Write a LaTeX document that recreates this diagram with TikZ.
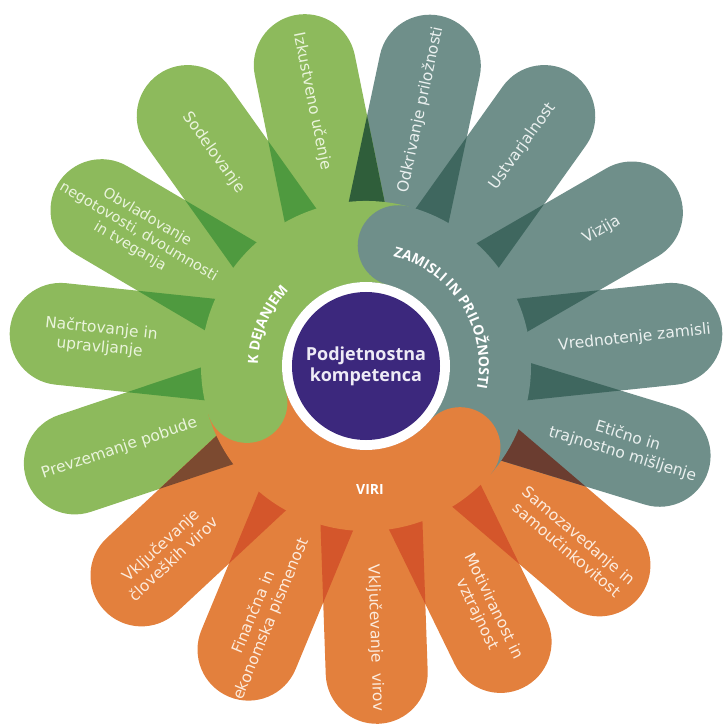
\documentclass[tikz,border=0pt]{standalone}
\usepackage{fontspec}
\setmainfont{DejaVu Sans}
\newfontfamily\osans{Open Sans}
\usetikzlibrary{decorations.text}
\definecolor{grp}{HTML}{8DBA5C}
\definecolor{tep}{HTML}{6F8F8A}
\definecolor{orp}{HTML}{E3803D}
\definecolor{dgr}{HTML}{4F9A3F}
\definecolor{dte}{HTML}{3F675F}
\definecolor{dor}{HTML}{D4562B}
\definecolor{dgt}{HTML}{2F5E3A}
\definecolor{dgo}{HTML}{7C4A30}
\definecolor{dto}{HTML}{6B3D30}
\definecolor{pur}{HTML}{3C287D}
\definecolor{tgr}{HTML}{EAF4DC}
\definecolor{tte}{HTML}{EAF0EF}
\definecolor{tor}{HTML}{FCEBDD}
\definecolor{tpu}{HTML}{EEEBF6}
\def\petalshape{(40,-51) -- (307,-51) arc[start angle=-90,end angle=90,radius=51] -- (40,51) -- cycle}
\newcommand\petal[2]{\fill[#2,rotate=#1] \petalshape;}
\newcommand\overlap[3]{\begin{scope}\clip[rotate=#1] \petalshape; \fill[#3,rotate=#2] \petalshape;\end{scope}}
\tikzset{
  lbl/.style={font=\fontsize{15.5}{18.5}\selectfont, align=center, inner sep=0pt},
  ringlbl/.style={font=\osans\bfseries\fontsize{14}{16}\selectfont, text=white, inner sep=0pt}
}
\begin{document}
\begin{tikzpicture}[x=1pt,y=1pt]
\useasboundingbox (-366,-362) rectangle (361,366);
% petals
\petal{6}{tep}
\petal{30}{tep}
\petal{54.5}{tep}
\petal{78}{tep}
\petal{101.5}{grp}
\petal{125.5}{grp}
\petal{149.5}{grp}
\petal{174}{grp}
\petal{198.5}{grp}
\petal{223}{orp}
\petal{247.5}{orp}
\petal{272}{orp}
\petal{296}{orp}
\petal{319.5}{orp}
\petal{343}{tep}
% overlaps
\overlap{6}{30}{dte}
\overlap{30}{54.5}{dte}
\overlap{54.5}{78}{dte}
\overlap{78}{101.5}{dgt}
\overlap{101.5}{125.5}{dgr}
\overlap{125.5}{149.5}{dgr}
\overlap{149.5}{174}{dgr}
\overlap{174}{198.5}{dgr}
\overlap{198.5}{223}{dgo}
\overlap{223}{247.5}{dor}
\overlap{247.5}{272}{dor}
\overlap{272}{296}{dor}
\overlap{296}{319.5}{dor}
\overlap{319.5}{343}{dto}
\overlap{343}{366}{dte}
% ring bands
\fill[tep] (-41:165) arc[start angle=-41,end angle=75,radius=165] -- (75:84) arc[start angle=75,end angle=-41,radius=84] -- cycle;
\fill[grp] (75:165) arc[start angle=75,end angle=197,radius=165] -- (197:84) arc[start angle=197,end angle=75,radius=84] -- cycle;
\fill[orp] (197:165) arc[start angle=197,end angle=319,radius=165] -- (319:84) arc[start angle=319,end angle=197,radius=84] -- cycle;
\fill[tep] (75:124.5) circle[radius=40.5];
\fill[grp] (197:124.5) circle[radius=40.5];
\fill[orp] (319:124.5) circle[radius=40.5];
\fill[white] (0,0) circle[radius=84];
\fill[pur] (0,0) circle[radius=74];
% centre
\node[font=\osans\bfseries\fontsize{18}{21}\selectfont, text=tpu, align=center] (centre) at (0,0) {Podjetnostna\\kompetenca};
% ring labels
\path[decorate, decoration={text along path, text align=center, text={|\osans\bfseries\fontsize{14}{16}\selectfont\color{white}|K DEJANJEM}}]
  (200:108) arc[start angle=200,end angle=115,radius=108];
\path[decorate, decoration={text along path, text align=center, text={|\osans\bfseries\fontsize{14}{16}\selectfont\color{white}|ZAMISLI IN PRILOŽNOSTI}}]
  (92.5:113) arc[start angle=92.5,end angle=-27.5,radius=113];
\node[ringlbl] (viri) at (4,-124) {VIRI};
% petal labels
\node[lbl, text=tte, rotate=6] (p1) at (6:270) {Vrednotenje zamisli};
\node[lbl, text=tte, rotate=30] (p2) at (30:272) {Vizija};
\node[lbl, text=tte, rotate=54.5] (p3) at (54.5:270) {Ustvarjalnost};
\node[lbl, text=tte, rotate=78] (p4) at (78:262) {Odkrivanje priložnosti};
\node[lbl, text=tgr, rotate=-78.5] (p5) at (101.5:270) {Izkustveno učenje};
\node[lbl, text=tgr, rotate=-54.5] (p6) at (125.5:262) {Sodelovanje};
\node[lbl, text=tgr, rotate=-30.5, font=\fontsize{14.5}{17}\selectfont] (p7) at (149.5:264) {Obvladovanje\\negotovosti, dvoumnosti\\in tveganja};
\node[lbl, text=tgr, rotate=-6] (p8) at (174:267) {Načrtovanje in\\upravljanje};
\node[lbl, text=tgr, rotate=18.5] (p9) at (198.5:260) {Prevzemanje pobude};
\node[lbl, text=tor, rotate=43] (p10) at (223:272) {Vključevanje\\človeških virov};
\node[lbl, text=tor, rotate=67.5] (p11) at (247.5:270) {Finančna in\\ekonomska pismenost};
\node[lbl, text=tor, rotate=-88] (p12) at (272:272) {Vključevanje~~virov};
\node[lbl, text=tor, rotate=-64] (p13) at (296:272) {Motiviranost in\\vztrajnost};
\node[lbl, text=tor, rotate=-40.5] (p14) at (319.5:272) {Samozavedanje in\\samoučinkovitost};
\node[lbl, text=tte, rotate=-17] (p15) at (343:271) {Etično in\\trajnostno mišljenje};
\end{tikzpicture}
\end{document}
